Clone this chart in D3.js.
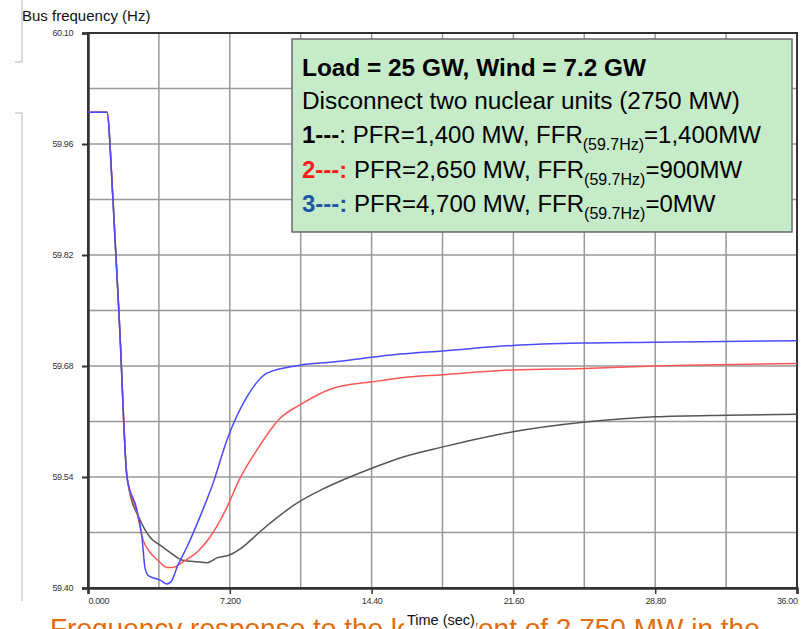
<!DOCTYPE html>
<html>
<head>
<meta charset="utf-8">
<script src="https://cdn.jsdelivr.net/npm/d3@7"></script>
<style>
  html, body { margin: 0; padding: 0; background: #fff; }
  svg { display: block; font-family: "Liberation Sans", Arial, Helvetica, sans-serif; }
</style>
</head>
<body>
<svg id="chart" width="809" height="629"></svg>
<script>
// Time axis (s) and bus frequency (Hz) tick labels
const xTickValues = [0, 7.2, 14.4, 21.6, 28.8, 36];
const xTickLabels = ["0.000", "7.200", "14.40", "21.60", "28.80", "36.00"];
const yTickValues = [59.40, 59.54, 59.68, 59.82, 59.96, 60.10];
const yTickLabels = ["59.40", "59.54", "59.68", "59.82", "59.96", "60.10"];

// Case 1: PFR = 1,400 MW, FFR = 1,400 MW
const case1Time = [0, 0.96, 1.27, 1.62, 1.98, 2.03, 2.64, 3.15, 3.66, 4.16, 4.82, 5.53, 6.04, 6.55, 7.21, 7.87, 8.73, 10.61, 11.94, 13.30, 14.42, 15.84, 18.03, 19.24, 21.58, 25.13, 28.79, 32.45, 36.0];
const case1Freq = [60.00, 60.00, 59.889, 59.722, 59.540, 59.532, 59.486, 59.464, 59.454, 59.445, 59.435, 59.433, 59.432, 59.438, 59.442, 59.452, 59.471, 59.507, 59.525, 59.540, 59.551, 59.564, 59.578, 59.585, 59.597, 59.609, 59.616, 59.618, 59.619];

// Case 2: PFR = 2,650 MW, FFR = 900 MW
const case2Time = [0, 0.96, 1.27, 1.62, 1.98, 2.49, 2.79, 3.15, 3.55, 4.01, 4.32, 4.82, 5.53, 6.19, 7.06, 7.67, 8.68, 9.75, 10.76, 12.44, 14.42, 15.84, 18.03, 21.58, 25.19, 28.79, 36.0];
const case2Freq = [60.00, 60.00, 59.889, 59.722, 59.540, 59.495, 59.461, 59.445, 59.435, 59.426, 59.426, 59.433, 59.445, 59.464, 59.502, 59.536, 59.578, 59.614, 59.631, 59.652, 59.660, 59.665, 59.669, 59.675, 59.677, 59.680, 59.683];

// Case 3: PFR = 4,700 MW, FFR = 0 MW
const case3Time = [0, 0.96, 1.27, 1.62, 1.98, 2.49, 2.74, 2.89, 3.05, 3.30, 3.66, 4.01, 4.27, 4.52, 5.03, 5.69, 6.35, 7.06, 8.07, 9.09, 10.76, 12.44, 14.42, 15.84, 18.03, 21.58, 25.19, 28.79, 36.0];
const case3Freq = [60.00, 60.00, 59.889, 59.722, 59.540, 59.498, 59.464, 59.426, 59.416, 59.413, 59.410, 59.405, 59.410, 59.426, 59.452, 59.490, 59.532, 59.587, 59.641, 59.671, 59.681, 59.685, 59.691, 59.695, 59.699, 59.706, 59.709, 59.710, 59.712];

const seriesColors = ["#555555", "#ff5555", "#4a4aff"];

const svg = d3.select("#chart");
const x = d3.scaleLinear().domain([0, 36]).range([88, 797]);
const y = d3.scaleLinear().domain([59.40, 60.10]).range([588, 33]);

// slide frame fragments on the left
svg.append("path")
  .attr("d", "M22,0V62H15M15,113H22V601")
  .attr("fill", "none").attr("stroke", "#b5b5b5").attr("stroke-width", 1);

// grid
const gridX = d3.range(0, 36.001, 3.6);
const gridY = d3.range(0, 11).map(i => 59.40 + i * 0.07);
const grid = svg.append("g").attr("stroke", "#999").attr("stroke-width", 1.5);
grid.selectAll("line.gx").data(gridX).join("line").attr("class", "gx")
  .attr("x1", d => x(d)).attr("x2", d => x(d)).attr("y1", y(60.10)).attr("y2", y(59.40));
grid.selectAll("line.gy").data(gridY).join("line").attr("class", "gy")
  .attr("x1", x(0)).attr("x2", x(36)).attr("y1", d => y(d)).attr("y2", d => y(d));

// frame
svg.append("rect")
  .attr("x", x(0)).attr("y", y(60.10)).attr("width", x(36) - x(0)).attr("height", y(59.40) - y(60.10))
  .attr("fill", "none").attr("stroke", "#333").attr("stroke-width", 2);

// axes
const yAxis = d3.axisLeft(y).tickValues(yTickValues).tickSize(6).tickPadding(9)
  .tickFormat((d, i) => yTickLabels[i]);
const gy = svg.append("g").attr("transform", `translate(${x(0)},0)`).call(yAxis);
gy.select(".domain").attr("stroke", "#333").attr("stroke-width", 2.5);
gy.selectAll(".tick line").attr("stroke", "#333").attr("stroke-width", 2);
gy.selectAll(".tick text").attr("font-size", 9).attr("fill", "#333")
  .attr("font-family", "Liberation Sans, Arial, sans-serif").attr("letter-spacing", -0.4);

const xAxis = d3.axisBottom(x).tickValues(xTickValues).tickSize(6).tickPadding(4)
  .tickFormat((d, i) => xTickLabels[i]);
const gx = svg.append("g").attr("transform", `translate(0,${y(59.40)})`).call(xAxis);
gx.select(".domain").attr("stroke", "#333").attr("stroke-width", 2.5);
gx.selectAll(".tick line").attr("stroke", "#333").attr("stroke-width", 1.5);
gx.selectAll(".tick text").attr("font-size", 9).attr("fill", "#333")
  .attr("font-family", "Liberation Sans, Arial, sans-serif").attr("letter-spacing", -0.4)
  .attr("text-anchor", (d, i) => i === 0 ? "start" : (i === xTickValues.length - 1 ? "end" : "middle"));

// frequency traces: black, then red, then blue on top
const line = d3.line().x(d => x(d[0])).y(d => y(d[1])).curve(d3.curveMonotoneX);
const series = [
  d3.zip(case1Time, case1Freq),
  d3.zip(case2Time, case2Freq),
  d3.zip(case3Time, case3Freq)
];
svg.append("g").selectAll("path").data(series).join("path")
  .attr("d", line)
  .attr("fill", "none")
  .attr("stroke", (d, i) => seriesColors[i])
  .attr("stroke-width", 1.5)
  .attr("stroke-linejoin", "round");

// y-axis title
svg.append("text").attr("x", 22).attr("y", 21).attr("font-size", 15).attr("fill", "#111")
  .text("Bus frequency (Hz)");

// note box
const note = svg.append("g");
note.append("rect").attr("x", 292).attr("y", 39).attr("width", 500).attr("height", 193)
  .attr("fill", "#c5ebc9").attr("stroke", "#6a6a6a").attr("stroke-width", 1.5);
const nx = 302;
note.append("text").attr("x", nx).attr("y", 76).attr("font-size", 24.4).attr("font-weight", "bold")
  .attr("fill", "#000").text("Load = 25 GW, Wind = 7.2 GW");
note.append("text").attr("x", nx).attr("y", 109).attr("font-size", 24.4)
  .attr("fill", "#000").text("Disconnect two nuclear units (2750 MW)");

const caseLines = [
  { tag: "1---", tagColor: "#000", colonBold: false, pfr: "PFR=1,400 MW, FFR", ffr: "=1,400MW" },
  { tag: "2---", tagColor: "#ff1a1a", colonBold: true, pfr: "PFR=2,650 MW, FFR", ffr: "=900MW" },
  { tag: "3---", tagColor: "#1f56a3", colonBold: true, pfr: "PFR=4,700 MW, FFR", ffr: "=0MW" }
];
caseLines.forEach((c, i) => {
  const t = note.append("text").attr("x", nx).attr("y", 143 + i * 34.5).attr("font-size", 24).attr("fill", "#000");
  t.append("tspan").attr("font-weight", "bold").attr("fill", c.tagColor).text(c.tag);
  t.append("tspan").attr("font-weight", c.colonBold ? "bold" : "normal").attr("fill", c.tagColor).text(":");
  t.append("tspan").text(" " + c.pfr);
  t.append("tspan").attr("font-size", 16).attr("dy", 7).text("(59.7Hz)");
  t.append("tspan").attr("dy", -7).text(c.ffr);
});

// caption line below the chart, cut by the page edge
svg.append("text").attr("x", 50).attr("y", 638).attr("font-size", 28).attr("fill", "#e46c0a")
  .text("Frequency response to the loss event of 2,750 MW in the");

// x-axis title
svg.append("rect").attr("x", 404).attr("y", 611).attr("width", 72).attr("height", 18).attr("fill", "#fff");
svg.append("text").attr("x", 407).attr("y", 625).attr("font-size", 14.5).attr("fill", "#111")
  .text("Time (sec)");
</script>
</body>
</html>
